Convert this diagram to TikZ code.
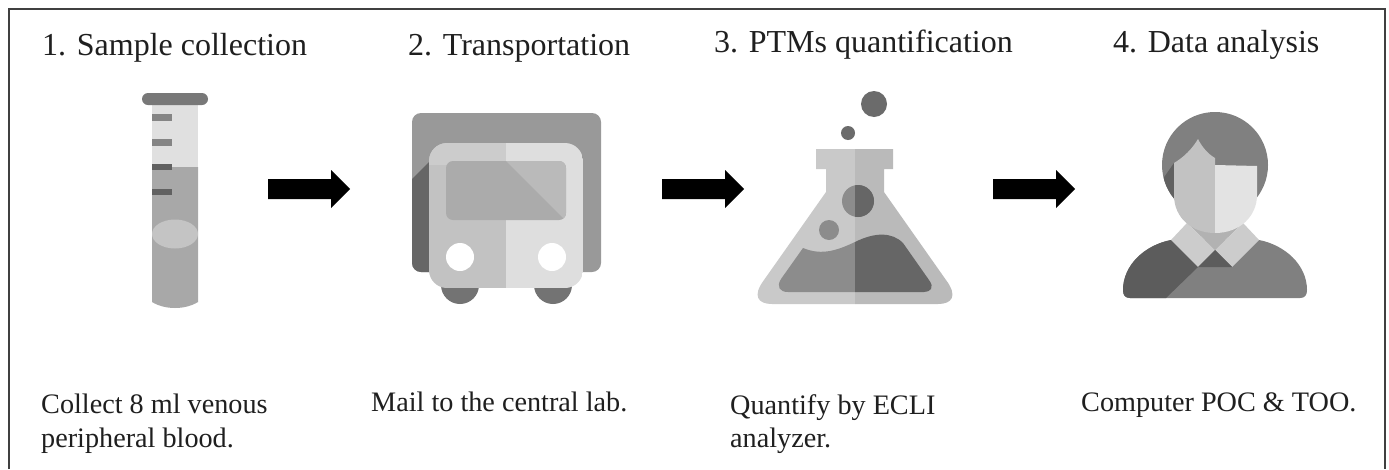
\documentclass[tikz,border=0pt]{standalone}
\usepackage{fontspec}
\setmainfont{Liberation Serif}
\tikzset{
 title/.style={anchor=base west,inner sep=0pt,font=\fontsize{32}{34}\selectfont,text=black!88},
 body/.style={anchor=base west,inner sep=0pt,font=\fontsize{28.2}{30}\selectfont,text=black!88},
 blockarrow/.style={fill=black,draw=none}
}
\newcommand{\barrow}[1]{\fill[blockarrow,shift={(#1,0)}] (0,179)--(63,179)--(63,170)--(82,189)--(63,208)--(63,199)--(0,199)--cycle;}
\begin{document}
\begin{tikzpicture}[x=1pt,y=-1pt]
\useasboundingbox (0,0) rectangle (1389,469);
\fill[white] (0,0) rectangle (1389,469);
\draw[black!75,line width=2pt] (8.5,469) -- (8.5,9) -- (1384.5,9) -- (1384.5,469);
% titles
\node[title] (t1) at (42,55) {1. Sample collection};
\node[title] (t2) at (408,55) {2. Transportation};
\node[title] (t3) at (714,52) {3. PTMs quantification};
\node[title] (t4) at (1113,52) {4. Data analysis};
% captions
\node[body] (c1a) at (41,413) {Collect 8 ml venous};
\node[body] (c1b) at (41,447) {peripheral blood.};
\node[body] (c2) at (371,411) {Mail to the central lab.};
\node[body] (c3a) at (730,414) {Quantify by ECLI};
\node[body] (c3b) at (730,447) {analyzer.};
\node[body] (c4) at (1081,411) {Computer POC \& TOO.};
% arrows
\barrow{268}\barrow{662}\barrow{993}
% tube
\fill[black!12] (152,103) rectangle (198,168);
\fill[black!34] (152,167) -- (198,167) -- (198,302) .. controls (185,310) and (165,310) .. (152,302) -- cycle;
\fill[black!23] (175,234) ellipse [x radius=23,y radius=14.5];
\fill[black!53,rounded corners=6pt] (142,93) rectangle (208,105);
\fill[black!48] (152,114) rectangle (172,121);
\fill[black!48] (152,139) rectangle (172,146);
\fill[black!62] (152,164) rectangle (172,170);
\fill[black!62] (152,189) rectangle (172,195);
% truck
\fill[black!40,rounded corners=9pt] (412,113) rectangle (601,272);
\begin{scope}
\clip[rounded corners=9pt] (412,113) rectangle (601,272);
\fill[black!60] (412,179) -- (440,151) -- (440,272) -- (412,272) -- cycle;
\end{scope}
\fill[black!55] (460,285) circle [radius=19];
\fill[black!55] (553,285) circle [radius=19];
\begin{scope}
\clip[rounded corners=18pt] (429,143) rectangle (583,288);
\fill[black!24] (429,143) rectangle (506,288);
\fill[black!20] (429,143) rectangle (506,165);
\fill[black!13] (506,143) rectangle (583,288);
\end{scope}
\fill[black!33,rounded corners=7pt] (446,161) rectangle (566,220);
\begin{scope}
\clip[rounded corners=7pt] (446,161) rectangle (566,220);
\fill[black!27] (506,161) -- (566,161) -- (566,220) -- (565,220) -- cycle;
\end{scope}
\fill[white] (460,257) circle [radius=14];
\fill[white] (552,257) circle [radius=14];
% flask
\fill[black!58] (874,104) circle [radius=13];
\fill[black!58] (848,133) circle [radius=7];
\fill[black!21] (855,149) -- (816,149) -- (816,169) -- (826,169) -- (826,192) -- (764,280)
  .. controls (752,296) and (758,304) .. (772,304) -- (855,304) -- cycle;
\fill[black!27] (855,149) -- (893,149) -- (893,169) -- (884,169) -- (884,192) -- (946,280)
  .. controls (958,296) and (952,304) .. (938,304) -- (855,304) -- cycle;
\begin{scope}
\clip (700,100) rectangle (855,320);
\fill[black!45] (803,248) .. controls (822,256) and (838,250) .. (855,242) .. controls (875,232) and (892,232) .. (903,243)
  -- (929,280) .. controls (935,288) and (930,292) .. (924,292) -- (788,292) .. controls (780,292) and (776,287) .. (781,279) -- cycle;
\end{scope}
\begin{scope}
\clip (855,100) rectangle (1000,320);
\fill[black!60] (803,248) .. controls (822,256) and (838,250) .. (855,242) .. controls (875,232) and (892,232) .. (903,243)
  -- (929,280) .. controls (935,288) and (930,292) .. (924,292) -- (788,292) .. controls (780,292) and (776,287) .. (781,279) -- cycle;
\end{scope}
\fill[black!45] (858,201) circle [radius=16];
\begin{scope}
\clip (855,150) rectangle (900,250);
\fill[black!60] (858,201) circle [radius=16];
\end{scope}
\fill[black!45] (829,230) circle [radius=10];
% person
\fill[black!50] (1215,165) circle [radius=53];
\begin{scope}
\clip (1215,165) circle [radius=53];
\fill[black!62] (1160,183) -- (1174,163) -- (1180,210) -- (1160,210) -- cycle;
\end{scope}
% body
\fill[black!50] (1171,240) .. controls (1145,245) and (1123,265) .. (1123,290)
  .. controls (1123,295) and (1125,298) .. (1130,298) -- (1300,298)
  .. controls (1305,298) and (1307,295) .. (1307,290) .. controls (1307,265) and (1285,245) .. (1259,240) -- cycle;
\begin{scope}
\clip (1171,240) .. controls (1145,245) and (1123,265) .. (1123,290)
  .. controls (1123,295) and (1125,298) .. (1130,298) -- (1300,298) -- (1300,230) -- cycle;
\fill[black!64] (1171,240) -- (1198,267) -- (1166,298) -- (1110,298) -- (1110,240) -- cycle;
\end{scope}
\fill[black!30] (1187,223) -- (1243,223) -- (1215,250) -- cycle;
\fill[black!20] (1171,240) -- (1187,223) -- (1215,250) -- (1198,267) -- cycle;
\fill[black!20] (1259,240) -- (1243,223) -- (1215,250) -- (1232,267) -- cycle;
\fill[black!64] (1215,250) -- (1198,267) -- (1232,267) -- cycle;
% face
\fill[black!24] (1215,233) .. controls (1192,233) and (1174,218) .. (1174,195) -- (1174,163)
  .. controls (1184,157) and (1192,149) .. (1198,139) .. controls (1202,147) and (1208,154) .. (1215,158) -- cycle;
\fill[black!11] (1215,233) .. controls (1240,233) and (1257,216) .. (1257,195) -- (1257,166) -- (1215,165) -- cycle;
\end{tikzpicture}
\end{document}
